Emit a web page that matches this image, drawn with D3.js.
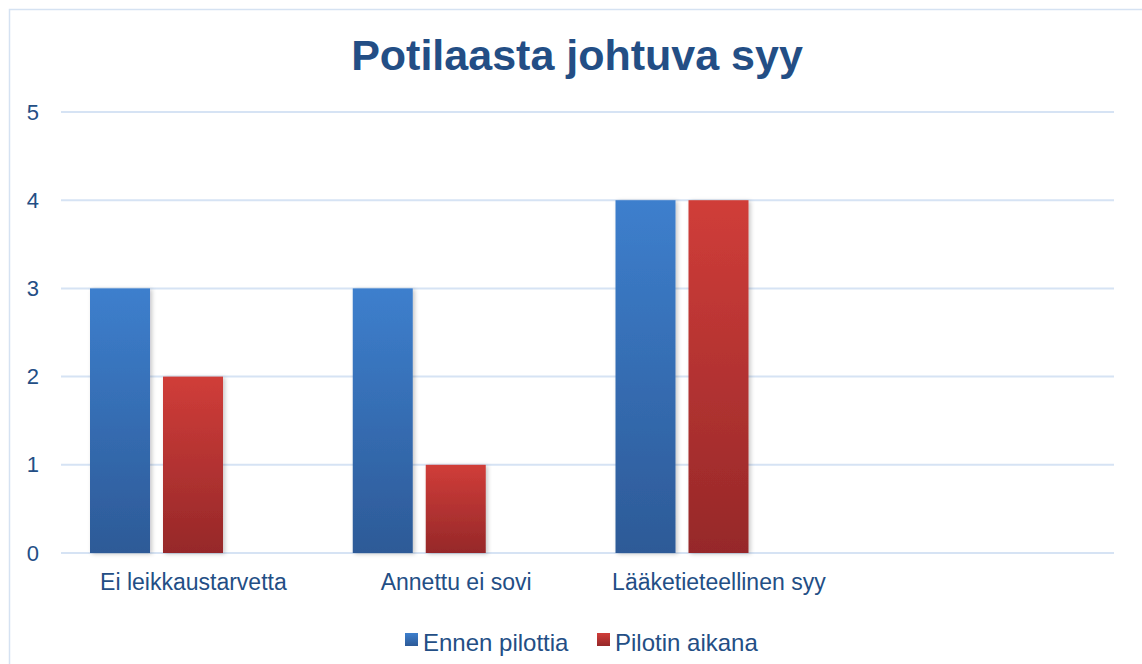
<!DOCTYPE html>
<html>
<head>
<meta charset="utf-8">
<script src="https://cdn.jsdelivr.net/npm/d3@7"></script>
<style>
  body { margin: 0; background: #fff; }
  svg { display: block; font-family: "Liberation Sans", Arial, sans-serif; }
</style>
</head>
<body>
<svg id="chart" width="1142" height="664"></svg>
<script>
// chart data
const title = "Potilaasta johtuva syy";
const categories = ["Ei leikkaustarvetta", "Annettu ei sovi", "Lääketieteellinen syy", ""];
const seriesNames = ["Ennen pilottia", "Pilotin aikana"];
const ennenPilottia = [3, 3, 4, null];
const pilotinAikana = [2, 1, 4, null];
const yTicks = [0, 1, 2, 3, 4, 5];
const slotCount = 3; // excel keeps an empty third slot in each group

const seriesValues = [ennenPilottia, pilotinAikana];
const gradients = [
  { id: "gradBlue", top: "#3d7fcd", bottom: "#2d5a97" },
  { id: "gradRed", top: "#d03d39", bottom: "#962829" }
];
const textColor = "#234e85";
const gridColor = "#d6e3f4";

const svg = d3.select("#chart");
const margin = { top: 112, right: 29, bottom: 111, left: 62 };
const width = 1142 - margin.left - margin.right,
      height = 664 - margin.top - margin.bottom;

// defs: gradients + soft shadow
const defs = svg.append("defs");
gradients.forEach(gr => {
  const lg = defs.append("linearGradient")
      .attr("id", gr.id).attr("x1", 0).attr("y1", 0).attr("x2", 0).attr("y2", 1);
  lg.append("stop").attr("offset", "0%").attr("stop-color", gr.top);
  lg.append("stop").attr("offset", "100%").attr("stop-color", gr.bottom);
});
const f = defs.append("filter").attr("id", "shadow")
    .attr("x", "-20%").attr("y", "-10%").attr("width", "140%").attr("height", "120%");
f.append("feDropShadow").attr("dx", 2).attr("dy", 1).attr("stdDeviation", 2)
    .attr("flood-color", "#000").attr("flood-opacity", 0.22);

// frame
svg.append("rect")
    .attr("x", 9.5).attr("y", 9.5)
    .attr("width", 1200).attr("height", 700)
    .attr("fill", "none").attr("stroke", "#d5e2f2").attr("stroke-width", 1.5);

svg.append("text")
    .attr("x", 577).attr("y", 70)
    .attr("text-anchor", "middle")
    .attr("font-size", 43).attr("font-weight", "bold")
    .attr("fill", textColor)
    .text(title);

const g = svg.append("g").attr("transform", "translate(" + margin.left + "," + margin.top + ")");

const x0 = d3.scaleBand().domain(categories.map((c, i) => i)).range([0, width]).padding(0);
const x1 = d3.scaleBand().domain(d3.range(slotCount)).range([28, 234]).paddingInner(0.178).paddingOuter(0);
const y = d3.scaleLinear().domain([0, 5]).range([height, 0]);

// gridlines
g.append("g").attr("class", "grid")
  .selectAll("line").data(yTicks).enter().append("line")
    .attr("x1", -1).attr("x2", width + 1)
    .attr("y1", d => y(d)).attr("y2", d => y(d))
    .attr("stroke", gridColor).attr("stroke-width", 2);

// y axis
const yAxis = g.append("g").attr("class", "y axis")
    .call(d3.axisLeft(y).tickValues(yTicks).tickFormat(d3.format("d")).tickSize(0).tickPadding(23));
yAxis.select(".domain").remove();
yAxis.attr("font-size", 22).attr("font-family", null);
yAxis.selectAll("text").attr("fill", textColor);

// x axis labels
const xAxis = g.append("g").attr("class", "x axis")
    .attr("transform", "translate(0," + height + ")")
    .call(d3.axisBottom(x0).tickSize(0).tickPadding(21).tickFormat(i => categories[i]));
xAxis.select(".domain").remove();
xAxis.attr("font-size", 23).attr("font-family", null);
xAxis.selectAll("text").attr("fill", textColor);

// bars
const groups = g.selectAll(".group")
  .data(categories.map((c, i) => i))
  .enter().append("g")
    .attr("class", "group")
    .attr("transform", i => "translate(" + x0(i) + ",0)");

groups.selectAll("rect")
  .data(i => seriesValues.map((vals, s) => ({ s: s, v: vals[i] })).filter(d => d.v != null))
  .enter().append("rect")
    .attr("x", d => x1(d.s))
    .attr("width", x1.bandwidth())
    .attr("y", d => y(d.v))
    .attr("height", d => y(0) - y(d.v))
    .attr("fill", d => "url(#" + gradients[d.s].id + ")")
    .attr("filter", "url(#shadow)");

// legend
const legend = svg.append("g").attr("class", "legend");
const legendX = [405, 597];
seriesNames.forEach((name, s) => {
  const item = legend.append("g").attr("transform", "translate(" + legendX[s] + ",633)");
  item.append("rect").attr("x", 0).attr("y", 0).attr("width", 13).attr("height", 13)
      .attr("fill", "url(#" + gradients[s].id + ")");
  item.append("text").attr("x", 18).attr("y", 9.5)
      .attr("dy", "0.35em")
      .attr("font-size", 24).attr("fill", textColor).text(name);
});
</script>
</body>
</html>
